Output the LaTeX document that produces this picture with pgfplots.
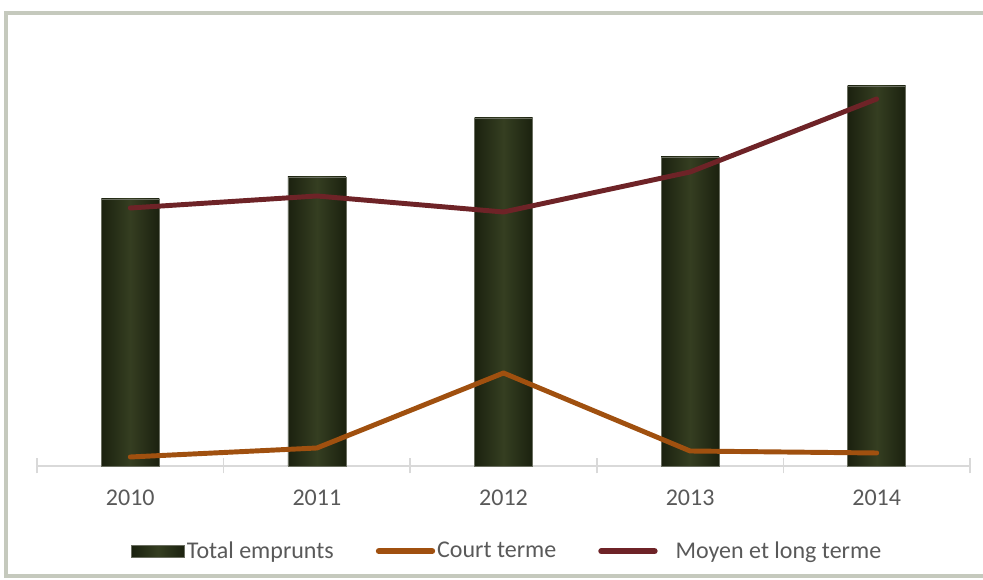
\documentclass[border=0pt]{standalone}
\usepackage{pgfplots}
\pgfplotsset{compat=1.18}
\usepackage{fontspec}
\setmainfont{Carlito}
\definecolor{bedge}{HTML}{1B210F}
\definecolor{bmid}{HTML}{353E21}
\definecolor{barline}{HTML}{6A6E60}
\definecolor{court}{HTML}{A0500F}
\definecolor{moyen}{HTML}{6E2327}
\definecolor{axgray}{HTML}{D9D9D9}
\definecolor{txt}{HTML}{595959}
\definecolor{framec}{HTML}{C5C9BD}
\pgfplotsset{onebar/.style={ybar, bar width=43.5pt, draw=barline, line width=0.5pt,
  left color=bedge, right color=bedge, middle color=bmid}}
\begin{document}
\begin{tikzpicture}[x=1pt,y=1pt]
\useasboundingbox (-27.75,-85.5) rectangle (709.5,349.5);
\draw[framec, line width=2.5pt] (-23.25,339.75) rectangle (712,-82.5);
\begin{axis}[
  at={(0,0)}, anchor=south west,
  scale only axis, width=699.75pt, height=319.5pt,
  xmin=-0.5, xmax=4.5, ymin=0, ymax=426,
  hide y axis,
  axis x line=bottom,
  x axis line style={-, draw=axgray, line width=1.5pt},
  xtick={0,1,2,3,4},
  xticklabels={2010,2011,2012,2013,2014},
  major tick length=0pt,
  minor xtick={-0.5,0.5,1.5,2.5,3.5,4.5},
  minor tick length=11.25pt,
  tick align=center,
  minor x tick style={draw=axgray, line width=1.2pt},
  xticklabel style={anchor=base, yshift=-30pt, font=\fontsize{18}{21}\selectfont, text=txt},
  clip=false,
  legend columns=3,
  legend style={draw=none, fill=none, at={(rel axis cs:0.504,-0.20)}, anchor=center,
    font=\fontsize{18}{21}\selectfont, text=txt,
    nodes={inner sep=1.5pt},
    /tikz/every even column/.append style={column sep=30pt}},
]
\addplot[onebar,
  legend image code/.code={\fill[left color=bedge, right color=bedge, middle color=bmid] (0pt,-4.5pt) rectangle (39.75pt,4.5pt);}]
  coordinates {(0,267)};
\addlegendentry{Total emprunts}
\addplot[onebar, forget plot] coordinates {(1,289)};
\addplot[onebar, forget plot] coordinates {(2,348)};
\addplot[onebar, forget plot] coordinates {(3,309)};
\addplot[onebar, forget plot] coordinates {(4,380)};
\addplot[court, line width=3.7pt, line cap=round, line join=round,
  legend image code/.code={\draw[court, line width=4.5pt, line cap=round] (0pt,0pt) -- (40pt,0pt);}]
  coordinates {(0,9) (1,18) (2,93) (3,15) (4,13)};
\addlegendentry{Court terme}
\addplot[moyen, line width=3.7pt, line cap=round, line join=round,
  legend image code/.code={\draw[moyen, line width=4.5pt, line cap=round] (0pt,0pt) -- (40pt,0pt);}]
  coordinates {(0,258) (1,270) (2,254) (3,294) (4,367)};
\addlegendentry{\hspace{12pt}Moyen et long terme}
\end{axis}
\end{tikzpicture}
\end{document}
